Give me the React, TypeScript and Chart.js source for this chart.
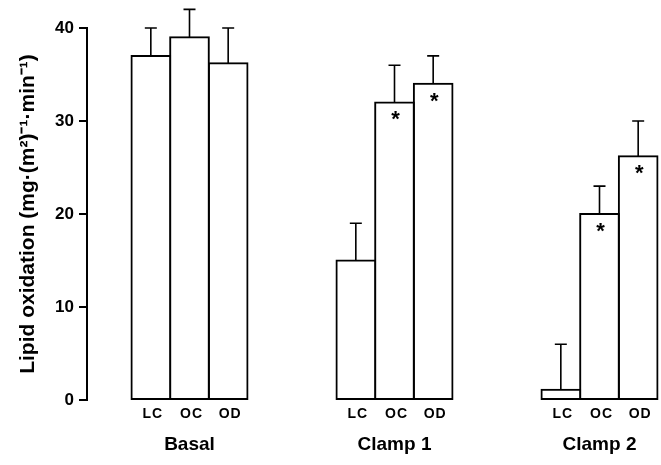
import React, { useEffect, useRef } from "react";
import { Chart, registerables } from "chart.js";

Chart.register(...registerables);

const groups = ["Basal", "Clamp 1", "Clamp 2"];
const subLabels = ["LC", "OC", "OD"];
// values per sub-group (LC, OC, OD) across groups (Basal, Clamp 1, Clamp 2)
const lcValues = [37, 15, 1.1];
const ocValues = [39, 32, 20];
const odValues = [36.2, 34, 26.2];
const lcErrTop = [40, 19, 6];
const ocErrTop = [42, 36, 23];
const odErrTop = [40, 37, 30];
const lcStar = [false, false, false];
const ocStar = [false, true, true];
const odStar = [false, true, true];
const yTicks = [0, 10, 20, 30, 40];
const yTitle = "Lipid oxidation (mg\u00b7(m\u00b2)\u207b\u00b9\u00b7min\u207b\u00b9)";

const FONT = "'Liberation Sans', Arial, Helvetica, sans-serif";

export default function App() {
  const ref = useRef<HTMLCanvasElement>(null);
  useEffect(() => {
    if (!ref.current) return;
    const errTops = [lcErrTop, ocErrTop, odErrTop];
    const stars = [lcStar, ocStar, odStar];
    const overlay = {
      id: "overlay",
      afterDatasetsDraw(chart: any) {
        const ctx = chart.ctx;
        const yScale = chart.scales.y;
        ctx.save();
        chart.data.datasets.forEach((ds: any, di: number) => {
          const meta = chart.getDatasetMeta(di);
          meta.data.forEach((el: any, i: number) => {
            const x = el.x;
            const yTop = el.y;
            const yErr = yScale.getPixelForValue(errTops[di][i]);
            ctx.strokeStyle = "#000";
            ctx.lineWidth = 1.6;
            ctx.beginPath();
            ctx.moveTo(x, yTop);
            ctx.lineTo(x, yErr);
            ctx.moveTo(x - 6, yErr);
            ctx.lineTo(x + 6, yErr);
            ctx.stroke();
            if (stars[di][i]) {
              ctx.fillStyle = "#000";
              ctx.font = `bold 22px ${FONT}`;
              ctx.textAlign = "center";
              ctx.textBaseline = "middle";
              ctx.fillText("*", x + 1, yTop + 18);
            }
            ctx.fillStyle = "#000";
            ctx.font = `bold 14px ${FONT}`;
            (ctx as any).letterSpacing = "1px";
            ctx.textAlign = "center";
            ctx.textBaseline = "middle";
            ctx.fillText(ds.label, x + 2, chart.chartArea.bottom + 14);
            (ctx as any).letterSpacing = "0px";
          });
        });
        ctx.restore();
      },
    };
    const common = {
      backgroundColor: "#fff",
      borderColor: "#000",
      borderWidth: 2,
      borderSkipped: false,
      inflateAmount: 1,
      barPercentage: 1,
      categoryPercentage: 0.566,
    };
    const chart = new Chart(ref.current, {
      type: "bar",
      data: {
        labels: groups,
        datasets: [
          { label: subLabels[0], data: lcValues, ...common },
          { label: subLabels[1], data: ocValues, ...common },
          { label: subLabels[2], data: odValues, ...common },
        ],
      },
      options: {
        animation: false,
        responsive: false,
        devicePixelRatio: 1,
        layout: { padding: { top: 28, right: 0, bottom: 0, left: 0 } },
        plugins: { legend: { display: false }, tooltip: { enabled: false } },
        scales: {
          x: {
            grid: { display: false },
            border: { display: false },
            afterFit: (s: any) => {
              s.height = 65;
            },
            ticks: {
              color: "#000",
              padding: 25,
              font: { family: FONT, size: 19, weight: "bold" },
            },
          },
          y: {
            min: 0,
            max: 40,
            afterFit: (s: any) => {
              s.width = 87;
            },
            afterBuildTicks: (s: any) => {
              s.ticks = yTicks.map((v) => ({ value: v }));
            },
            grid: {
              drawOnChartArea: false,
              drawTicks: true,
              tickLength: 8,
              color: "#000",
              lineWidth: 2,
            },
            border: { display: true, color: "#000", width: 2 },
            ticks: {
              color: "#000",
              padding: 5,
              font: { family: FONT, size: 17, weight: "bold" },
            },
            title: {
              display: true,
              text: yTitle,
              color: "#000",
              padding: { top: 16, bottom: 0 },
              font: { family: FONT, size: 21, weight: "bold" },
            },
          },
        },
      },
      plugins: [overlay],
    });
    return () => chart.destroy();
  }, []);
  return (
    <div
      style={{
        position: "fixed",
        left: 0,
        top: 0,
        width: 661,
        height: 465,
        overflow: "hidden",
        background: "#fff",
      }}
    >
      <canvas ref={ref} width={702} height={465} style={{ display: "block" }} />
    </div>
  );
}
